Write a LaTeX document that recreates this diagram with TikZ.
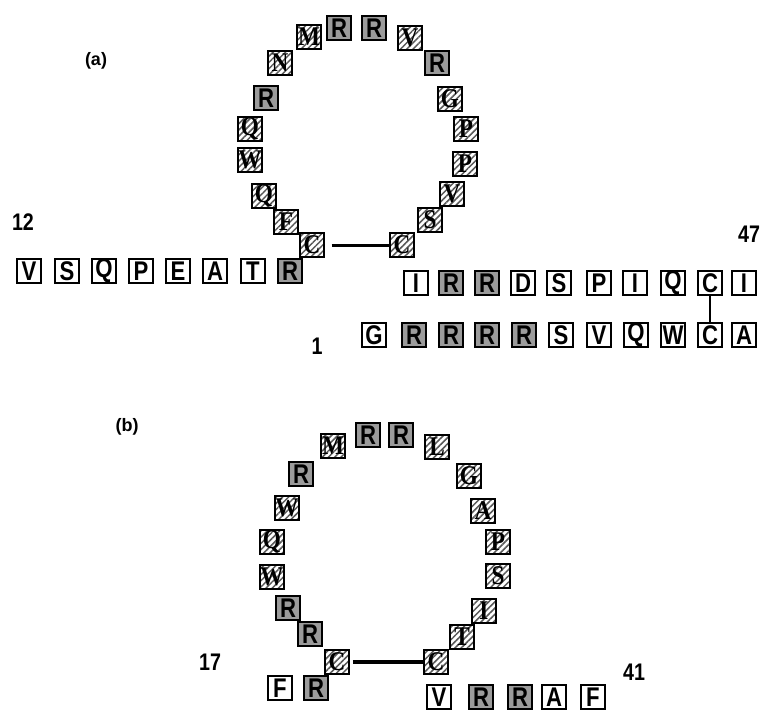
\documentclass[tikz,border=0pt]{standalone}
\usepackage{fontspec}
\setmainfont{Liberation Sans}
\newfontfamily\sansbox{Liberation Sans}[FakeStretch=0.82]
\newfontfamily\serifbox{Liberation Serif}[FakeStretch=0.86]
\usetikzlibrary{patterns.meta}
\definecolor{boxgray}{RGB}{155,155,155}
\tikzset{
  bx/.style={draw=black, line width=2pt, minimum size=23.5pt, inner sep=0pt, text=black},
  wb/.style={bx, fill=white, font=\sansbox\bfseries\fontsize{27}{27}\selectfont},
  gb/.style={bx, fill=boxgray, font=\sansbox\bfseries\fontsize{27}{27}\selectfont},
  hb/.style={bx, preaction={fill=white},
     pattern={Lines[angle=45,distance=4.4pt,line width=1.5pt]}, pattern color=black!65,
     font=\serifbox\bfseries\fontsize{27}{27}\selectfont},
  numlab/.style={font=\sansbox\bfseries\fontsize{24}{24}\selectfont, inner sep=0pt},
  partlab/.style={font=\bfseries\fontsize{18}{18}\selectfont, inner sep=0pt},
  ss/.style={line width=3pt},
  sbond/.style={line width=1.6pt}
}
\begin{document}
\begin{tikzpicture}[x=1pt,y=-1pt]
\useasboundingbox (0,0) rectangle (762,711);
% ---------- (a) ----------
\node[partlab] (la) at (96,61) {(a)};
% ring
\node[hb] (a1) at (312,245) {C};
\node[hb] (a2) at (286,222) {F};
\node[hb] (a3) at (264,196) {Q};
\node[hb] (a4) at (250,160) {W};
\node[hb] (a5) at (250,129) {Q};
\node[gb] (a6) at (266,98) {R};
\node[hb] (a7) at (280,63) {N};
\node[hb] (a8) at (309,37) {M};
\node[gb] (a9) at (339,28) {R};
\node[gb] (a10) at (374,28) {R};
\node[hb] (a11) at (410,38) {V};
\node[gb] (a12) at (437,63) {R};
\node[hb] (a13) at (450,99) {G};
\node[hb] (a14) at (466,129) {P};
\node[hb] (a15) at (465,164) {P};
\node[hb] (a16) at (452,194) {V};
\node[hb] (a17) at (430,220) {S};
\node[hb] (a18) at (402,245) {C};
\draw[ss, shorten <=7pt] (a1.east) -- (a18.west);
% left chain
\node[numlab] (n12) at (23,222) {12};
\node[wb] (l1) at (29,271) {V};
\node[wb] (l2) at (67,271) {S};
\node[wb] (l3) at (104,271) {Q};
\node[wb] (l4) at (141,271) {P};
\node[wb] (l5) at (178,271) {E};
\node[wb] (l6) at (215,271) {A};
\node[wb] (l7) at (253,271) {T};
\node[gb] (l8) at (290,271) {R};
% right top chain
\node[numlab] (n47) at (749,234) {47};
\node[wb] (t1) at (416,283) {I};
\node[gb] (t2) at (451,283) {R};
\node[gb] (t3) at (487,283) {R};
\node[wb] (t4) at (523,283) {D};
\node[wb] (t5) at (559,283) {S};
\node[wb] (t6) at (599,283) {P};
\node[wb] (t7) at (635,283) {I};
\node[wb] (t8) at (673,283) {Q};
\node[wb] (t9) at (710,283) {C};
\node[wb] (t10) at (744,283) {I};
% right bottom chain
\node[numlab] (n1) at (317,346) {1};
\node[wb] (b1) at (374,335) {G};
\node[gb] (b2) at (414,335) {R};
\node[gb] (b3) at (451,335) {R};
\node[gb] (b4) at (487,335) {R};
\node[gb] (b5) at (524,335) {R};
\node[wb] (b6) at (561,335) {S};
\node[wb] (b7) at (599,335) {V};
\node[wb] (b8) at (636,335) {Q};
\node[wb] (b9) at (673,335) {W};
\node[wb] (b10) at (710,335) {C};
\node[wb] (b11) at (744,335) {A};
\draw[sbond] (t9.south) -- (b10.north);
% ---------- (b) ----------
\node[partlab] (lb) at (127,427) {(b)};
\node[hb] (c1) at (337,662) {C};
\node[gb] (c2) at (310,634) {R};
\node[gb] (c3) at (288,608) {R};
\node[hb] (c4) at (272,577) {W};
\node[hb] (c5) at (272,542) {Q};
\node[hb] (c6) at (287,508) {W};
\node[gb] (c7) at (301,474) {R};
\node[hb] (c8) at (333,446) {M};
\node[gb] (c9) at (368,435) {R};
\node[gb] (c10) at (401,435) {R};
\node[hb] (c11) at (437,447) {L};
\node[hb] (c12) at (469,476) {G};
\node[hb] (c13) at (483,511) {A};
\node[hb] (c14) at (498,542) {P};
\node[hb] (c15) at (498,576) {S};
\node[hb] (c16) at (484,611) {I};
\node[hb] (c17) at (462,637) {T};
\node[hb] (c18) at (436,662) {C};
\draw[line width=3.6pt, shorten <=3pt] (c1.east) -- (c18.west);
\node[numlab] (n17) at (210,662) {17};
\node[wb] (d1) at (280,688) {F};
\node[gb] (d2) at (316,688) {R};
\node[numlab] (n41) at (634,672) {41};
\node[wb] (e1) at (439,697) {V};
\node[gb] (e2) at (481,697) {R};
\node[gb] (e3) at (520,697) {R};
\node[wb] (e4) at (554,697) {A};
\node[wb] (e5) at (593,697) {F};
\end{tikzpicture}
\end{document}
